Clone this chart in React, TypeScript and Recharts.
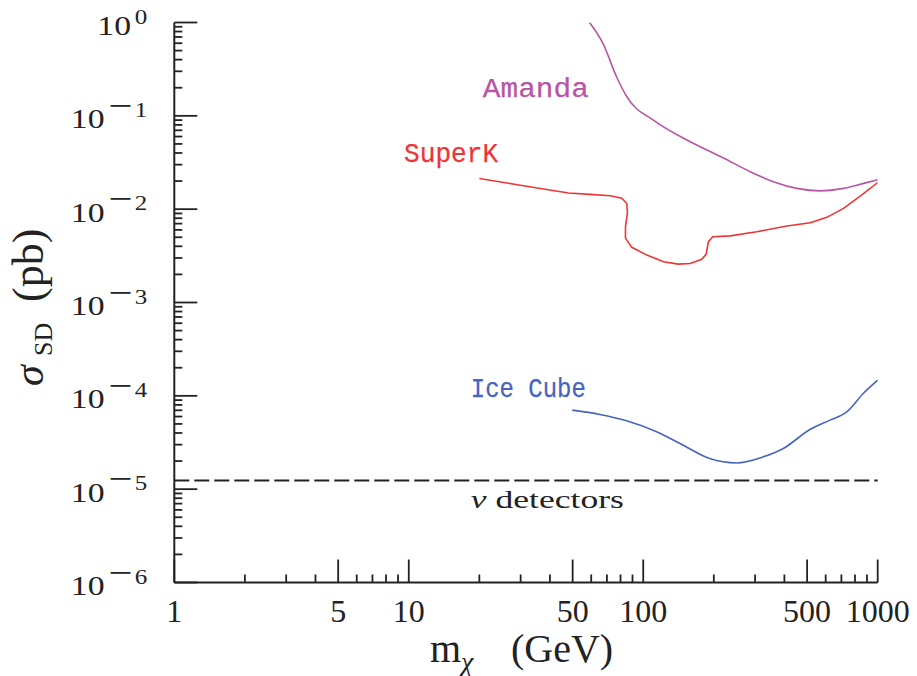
import { LineChart, Line, XAxis, YAxis, ReferenceLine, ReferenceDot } from 'recharts';

// neutralino mass (GeV) and spin-dependent cross-section limits (pb)
const amandaMass = [59, 67.4, 77.1, 85.4, 111.7, 156.5, 219, 286, 359, 452, 569, 715, 871, 1000];
const amandaSigma = [1.0, 0.594, 0.259, 0.158, 0.0884, 0.0538, 0.0356, 0.0252, 0.0197, 0.0167, 0.0157, 0.0167, 0.0189, 0.0206];

const superKMass = [20, 29, 48, 59.4, 72.3, 81, 85.1, 85.6, 84.0, 84.0, 89.4, 103.6, 122, 141, 158.5, 177.8, 185.5, 189.7, 198, 235, 305, 410, 516, 607, 715, 842, 1000];
const superKSigma = [0.0213, 0.0183, 0.0149, 0.0144, 0.0139, 0.0131, 0.0115, 0.009, 0.0065, 0.0049, 0.0039, 0.00322, 0.00273, 0.00258, 0.00262, 0.0029, 0.0033, 0.00448, 0.00506, 0.00518, 0.00573, 0.00659, 0.00715, 0.00817, 0.0102, 0.0138, 0.0193];

const iceCubeMass = [49.8, 65.3, 84.9, 114, 148, 192, 250, 325, 396, 514, 626, 738, 868, 1000];
const iceCubeSigma = [7.03e-5, 6.32e-5, 5.4e-5, 4.12e-5, 2.96e-5, 2.13e-5, 1.91e-5, 2.22e-5, 2.73e-5, 4.36e-5, 5.49e-5, 6.74e-5, 1.06e-4, 1.47e-4];

const detectorLimit = 1.24e-5;

const tickMantissas = [1, 2, 3, 4, 5, 6, 7, 8, 9];
const massDecades = [1, 10, 100];
const sigmaDecades = [1e-6, 1e-5, 1e-4, 1e-3, 1e-2, 1e-1];
const massTicks = [...massDecades.flatMap(d => tickMantissas.map(m => m * d)), 1000];
const sigmaTicks = [...sigmaDecades.flatMap(d => tickMantissas.map(m => m * d)), 1];
const massLabelTicks = [1, 5, 10, 50, 100, 500, 1000];

const toPoints = (mass: number[], sigma: number[]) => mass.map((m, i) => ({ mass: m, sigma: sigma[i] }));
const amandaData = toPoints(amandaMass, amandaSigma);
const superKData = toPoints(superKMass, superKSigma);
const iceCubeData = toPoints(iceCubeMass, iceCubeSigma);

const INK = '#222';
const SERIF = '"Liberation Serif", "DejaVu Serif", serif';
const MONO = '"Liberation Mono", "DejaVu Sans Mono", monospace';
const AMANDA = '#b955a5';
const SUPERK = '#ee3535';
const ICECUBE = '#4664be';

const seriesLabels = [
  { text: 'Amanda', mass: 20.7, sigma: 0.159, color: AMANDA, width: 106 },
  { text: 'SuperK', mass: 9.55, sigma: 0.0318, color: SUPERK, width: 94 },
  { text: 'Ice Cube', mass: 18.4, sigma: 9.75e-5, color: ICECUBE, width: 115 },
];

const isDecade = (v: number) => Math.abs(Math.log10(v) - Math.round(Math.log10(v))) < 1e-6;
const isMassMajor = (v: number) => massLabelTicks.some(t => Math.abs(t - v) < 1e-6);

function BottomTick({ x, y, payload }: any) {
  const major = isMassMajor(payload.value);
  return (
    <g>
      <line x1={x} y1={y} x2={x} y2={y - (major ? 23 : 8)} stroke={INK} strokeWidth={1.8} />
      {major && (
        <text x={x} y={y + 39} textAnchor="middle" fontSize={32} fontFamily={SERIF} fill={INK}>
          {Math.round(payload.value)}
        </text>
      )}
    </g>
  );
}

function TopTick({ x, y, payload }: any) {
  const major = isMassMajor(payload.value);
  return <line x1={x} y1={y} x2={x} y2={y + (major ? 22 : 7)} stroke={INK} strokeWidth={1.8} />;
}

function LeftTick({ x, y, payload }: any) {
  const v = payload.value;
  const major = isDecade(v);
  const exp = Math.round(Math.log10(v));
  return (
    <g>
      <line x1={x} y1={y} x2={x + (major ? 23 : 8)} y2={y} stroke={INK} strokeWidth={1.8} />
      {major && (
        <g transform={`translate(${x - 27},${y}) scale(1.25,1)`}>
          <text x={0} y={12.5} textAnchor="end" fontSize={27} fontFamily={SERIF} fill={INK}>
            10
            {exp < 0 && (
              <tspan dx={3} dy={-11.5} fontSize={34}>
                −
              </tspan>
            )}
            <tspan dx={exp < 0 ? 2 : 3} dy={exp < 0 ? 0 : -11.5} fontSize={20}>
              {Math.abs(exp)}
            </tspan>
          </text>
        </g>
      )}
    </g>
  );
}

function RightTick({ x, y, payload }: any) {
  const major = isDecade(payload.value);
  return <line x1={x} y1={y} x2={x - (major ? 23 : 8)} y2={y} stroke={INK} strokeWidth={1.8} />;
}

const axisLine = { stroke: INK, strokeWidth: 2 };

export default function App() {
  return (
    <div style={{ position: 'absolute', left: 0, top: 0, width: 917, height: 676, background: '#fff' }}>
      <LineChart width={917} height={676} margin={{ top: 22.5, right: 39.3, bottom: 0, left: 0 }}>
        <XAxis
          xAxisId="x"
          dataKey="mass"
          type="number"
          scale="log"
          domain={[1, 1000]}
          allowDataOverflow
          ticks={massTicks}
          interval={0}
          height={93.5}
          tickSize={0}
          tickMargin={0}
          tickLine={false}
          axisLine={axisLine}
          tick={(p: any) => <BottomTick {...p} />}
        />
        <XAxis
          xAxisId="xTop"
          orientation="top"
          type="number"
          scale="log"
          domain={[1, 1000]}
          allowDataOverflow
          ticks={massTicks}
          interval={0}
          height={0}
          tickSize={0}
          tickMargin={0}
          tickLine={false}
          axisLine={axisLine}
          tick={(p: any) => <TopTick {...p} />}
        />
        <YAxis
          yAxisId="y"
          type="number"
          scale="log"
          domain={[1e-6, 1]}
          allowDataOverflow
          ticks={sigmaTicks}
          interval={0}
          width={174.3}
          tickSize={0}
          tickMargin={0}
          tickLine={false}
          axisLine={axisLine}
          tick={(p: any) => <LeftTick {...p} />}
        />
        <YAxis
          yAxisId="yRight"
          orientation="right"
          type="number"
          scale="log"
          domain={[1e-6, 1]}
          allowDataOverflow
          ticks={sigmaTicks}
          interval={0}
          width={0}
          tickSize={0}
          tickMargin={0}
          tickLine={false}
          axisLine={axisLine}
          tick={(p: any) => <RightTick {...p} />}
        />
        <ReferenceLine
          xAxisId="x"
          yAxisId="y"
          y={detectorLimit}
          stroke={INK}
          strokeWidth={2}
          strokeDasharray="15 5"
        />
        <Line
          xAxisId="x"
          yAxisId="y"
          data={amandaData}
          dataKey="sigma"
          type="monotone"
          stroke={AMANDA}
          strokeWidth={1.6}
          dot={false}
          isAnimationActive={false}
        />
        <Line
          xAxisId="x"
          yAxisId="y"
          data={superKData}
          dataKey="sigma"
          type="linear"
          stroke={SUPERK}
          strokeWidth={1.6}
          dot={false}
          isAnimationActive={false}
        />
        <Line
          xAxisId="x"
          yAxisId="y"
          data={iceCubeData}
          dataKey="sigma"
          type="monotone"
          stroke={ICECUBE}
          strokeWidth={1.6}
          dot={false}
          isAnimationActive={false}
        />
        {seriesLabels.map(l => (
          <ReferenceDot
            key={l.text}
            xAxisId="x"
            yAxisId="y"
            x={l.mass}
            y={l.sigma}
            r={0}
            shape={(p: any) => (
              <text
                x={p.cx}
                y={p.cy}
                fontSize={27}
                fontFamily={MONO}
                fill={l.color}
                stroke={l.color}
                strokeWidth={0.25}
                textLength={l.width}
                lengthAdjust="spacingAndGlyphs"
              >
                {l.text}
              </text>
            )}
          />
        ))}
        <ReferenceDot
          xAxisId="x"
          yAxisId="y"
          x={18.4}
          y={6.25e-6}
          r={0}
          shape={(p: any) => (
            <text
              x={p.cx}
              y={p.cy}
              fontSize={25}
              fontFamily={SERIF}
              fill={INK}
              textLength={153}
              lengthAdjust="spacingAndGlyphs"
            >
              <tspan fontStyle="italic">ν</tspan> detectors
            </text>
          )}
        />
      </LineChart>
      <svg
        width={917}
        height={676}
        style={{ position: 'absolute', left: 0, top: 0, pointerEvents: 'none' }}
      >
        <text y={662} fontFamily={SERIF} fill={INK}>
          <tspan x={430} fontSize={40}>m</tspan>
          <tspan x={461} dy={9} fontSize={28} fontStyle="italic">χ</tspan>
          <tspan x={511} dy={-9} fontSize={40}>(GeV)</tspan>
        </text>
        <g transform="translate(43,302) rotate(-90)">
          <text x={0} y={0} fontFamily={SERIF} fill={INK}>
            <tspan x={-84} fontSize={42} fontStyle="italic">σ</tspan>
            <tspan x={-54} dy={9} fontSize={26}>SD</tspan>
            <tspan x={0} dy={-9} fontSize={44}>(pb)</tspan>
          </text>
        </g>
      </svg>
    </div>
  );
}
